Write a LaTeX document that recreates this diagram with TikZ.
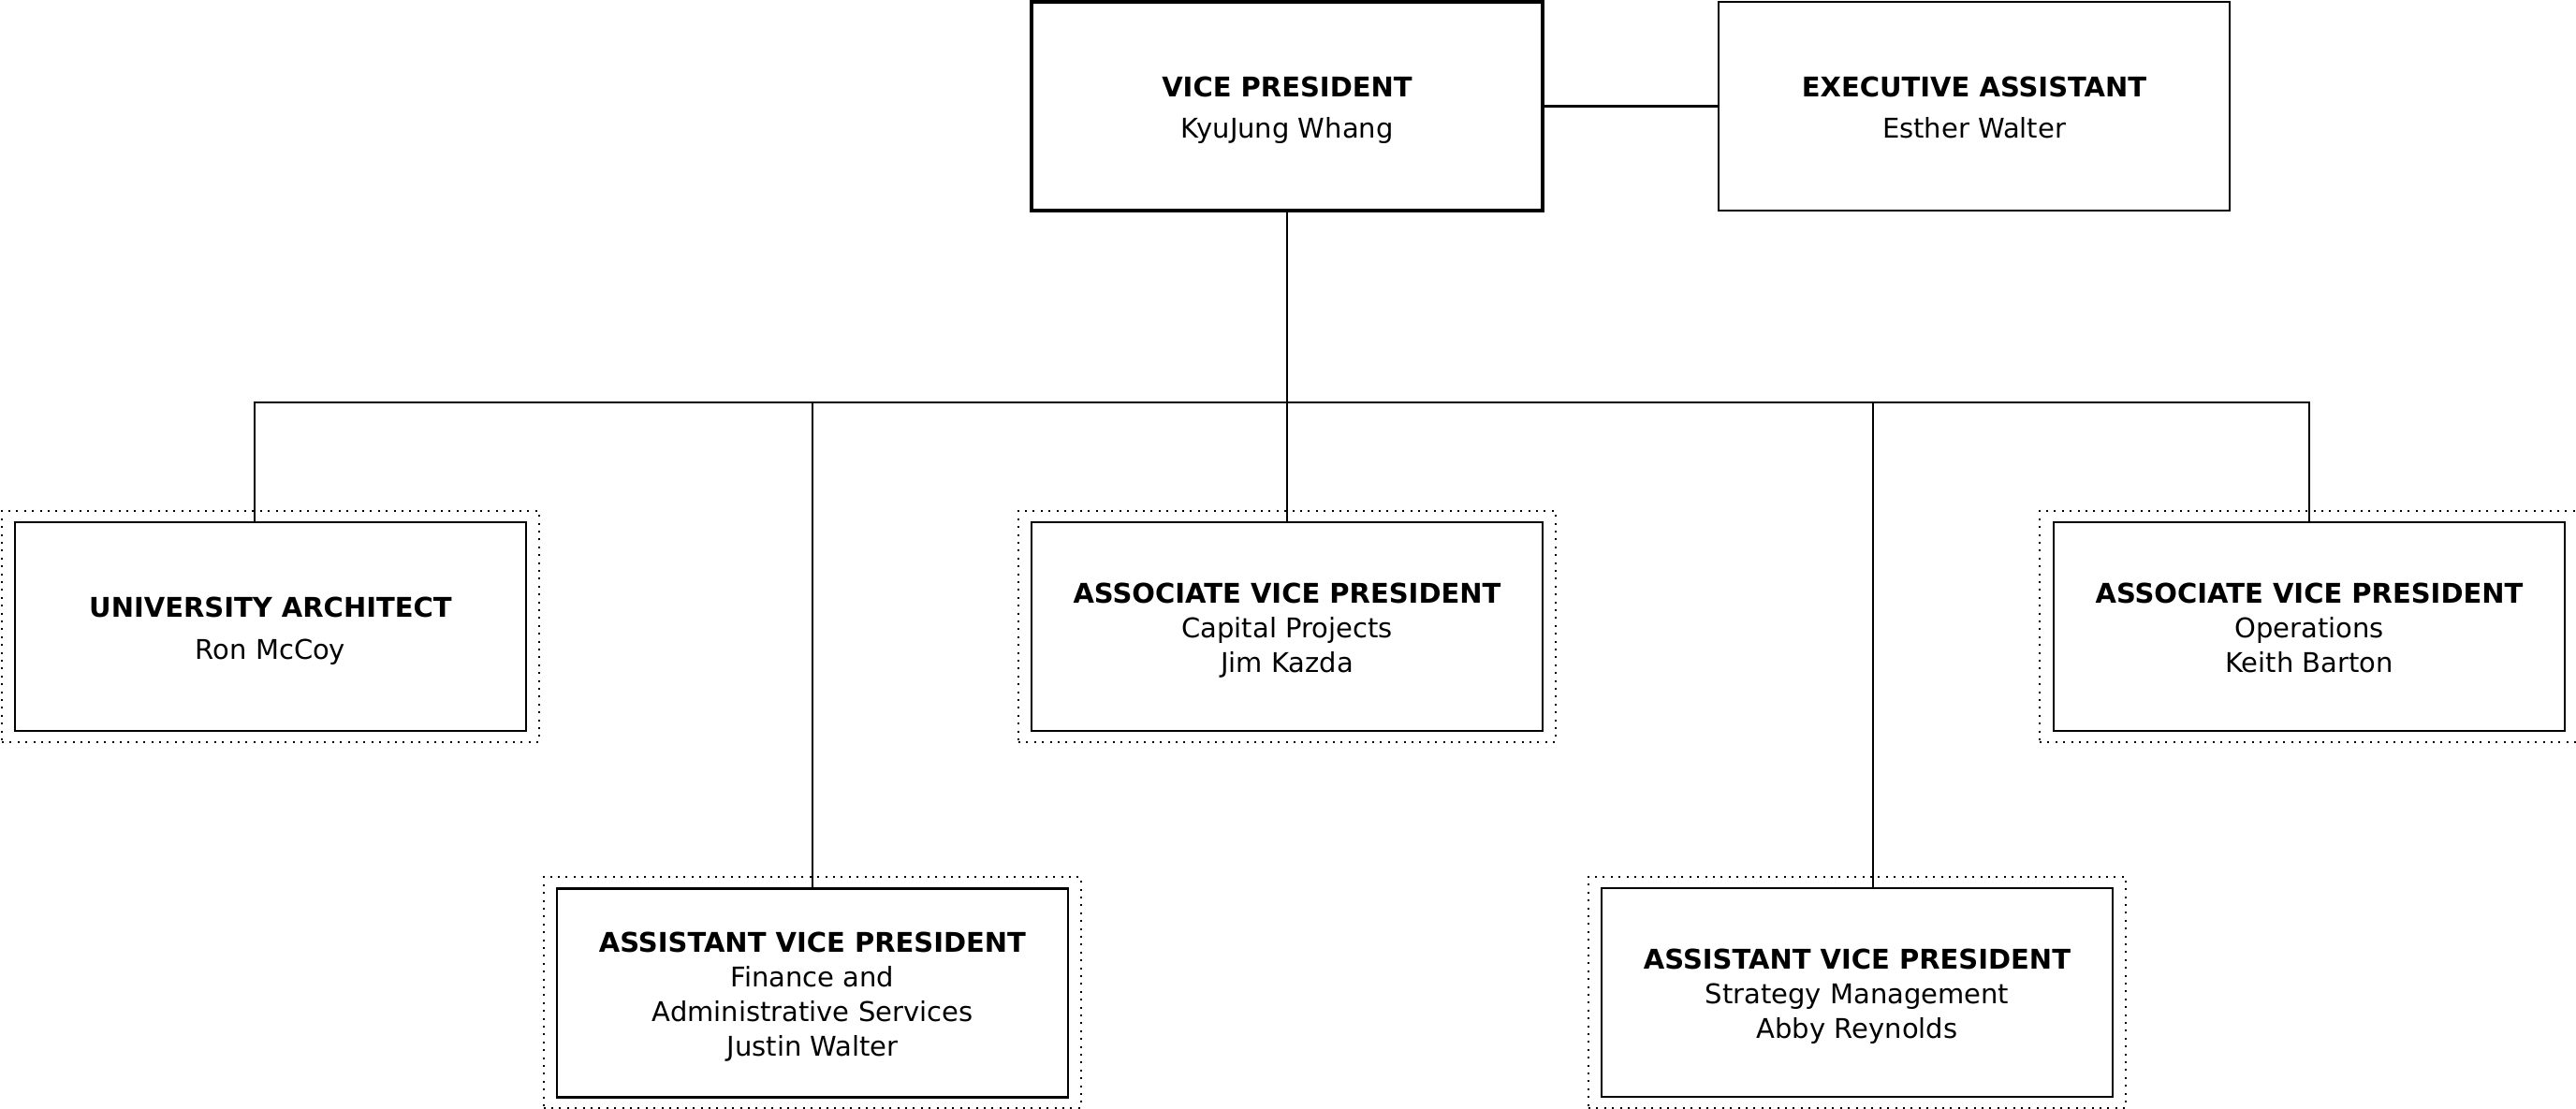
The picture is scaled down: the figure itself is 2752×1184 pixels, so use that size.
\documentclass[tikz,border=0pt]{standalone}
\usepackage{fontspec}
\setmainfont{DejaVu Sans}
\newcommand\tstrut{\rule{0pt}{31pt}}
\newcommand\dstrut{\rule[-7pt]{0pt}{7pt}}
\begin{document}
\begin{tikzpicture}[x=1pt,y=-1pt,
  base/.style={rectangle, minimum width=546pt, minimum height=223pt, inner sep=0pt, align=center,
    font=\fontsize{29}{37}\selectfont},
  unit/.style={base, draw, line width=2.6pt},
  unittwo/.style={unit, font=\fontsize{29}{45}\selectfont},
  topbox/.style={base, draw, line width=4.8pt, font=\fontsize{29}{44}\selectfont},
  asstbox/.style={base, draw, line width=1.6pt, font=\fontsize{29}{44}\selectfont},
  outer/.style={rectangle, draw, line width=2pt, dash pattern=on 2pt off 6.4pt, minimum width=574pt, minimum height=247pt, inner sep=0pt},
  link/.style={line width=2.5pt, line join=miter}]
\useasboundingbox (0,0) rectangle (2752,1184);

% top row
\node[topbox] (vp) at (1375,113.5) {\tstrut\textbf{VICE PRESIDENT}\\KyuJung Whang\dstrut};
\node[asstbox] (ea) at (2109,113.5) {\tstrut\textbf{EXECUTIVE ASSISTANT}\\Esther Walter\dstrut};

% second row
\node[outer] (uao) at (289,669.5) {};
\node[unittwo] (ua) at (289,669.5) {\tstrut\textbf{UNIVERSITY ARCHITECT}\\Ron McCoy\dstrut};
\node[outer] (cpo) at (1375,669.5) {};
\node[unit] (cp) at (1375,669.5) {\tstrut\textbf{ASSOCIATE VICE PRESIDENT}\\Capital Projects\\Jim Kazda\dstrut};
\node[outer] (opo) at (2466,669.5) {};
\node[unit] (op) at (2467,669.5) {\tstrut\textbf{ASSOCIATE VICE PRESIDENT}\\Operations\\Keith Barton\dstrut};

% third row
\node[outer] (fao) at (867.5,1060.5) {};
\node[unit] (fa) at (868,1061) {\tstrut\textbf{ASSISTANT VICE PRESIDENT}\\Finance and\\Administrative Services\\Justin Walter\dstrut};
\node[outer] (smo) at (1984,1060) {};
\node[unit] (sm) at (1984,1060.5) {\tstrut\textbf{ASSISTANT VICE PRESIDENT}\\Strategy Management\\Abby Reynolds\dstrut};

% bus coordinates
\coordinate (busL) at (272,430);
\coordinate (busR) at (2467,430);
\coordinate (busF) at (868,430);
\coordinate (busS) at (2001,430);

% connectors
\draw[link] (vp.east) -- (ea.west);
\draw[link] (vp.south) -- (vp.south |- busL);
\draw[link] (busL |- ua.north) -- (busL) -- (busR) -- (op.north);
\draw[link] (busF) -- (fa.north);
\draw[link] (vp.south |- busL) -- (cp.north);
\draw[link] (busS) -- (busS |- sm.north);
\end{tikzpicture}
\end{document}
